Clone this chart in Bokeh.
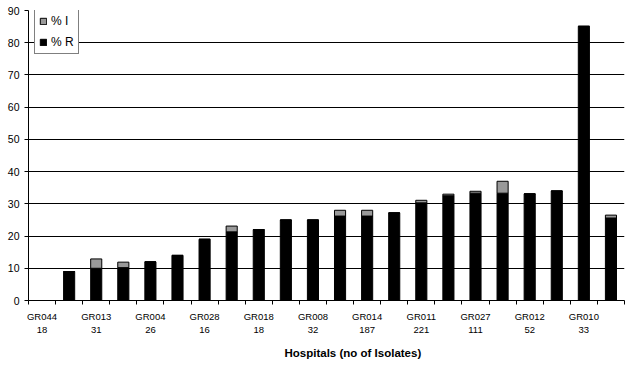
from bokeh.plotting import figure
from bokeh.models import FixedTicker, Range1d, Legend, LegendItem, ColumnDataSource, Title
from bokeh.embed import file_html
from bokeh.resources import INLINE

# Data
hospitals = ["GR044", "", "GR013", "", "GR004", "", "GR028", "", "GR018", "", "GR008",
             "", "GR014", "", "GR011", "", "GR027", "", "GR012", "", "GR010", ""]
isolates = ["18", "", "31", "", "26", "", "16", "", "18", "", "32",
            "", "187", "", "221", "", "111", "", "52", "", "33", ""]
pct_r = [0, 9, 10, 10.2, 12, 14, 19, 21.3, 22, 25, 25,
         26.2, 26.2, 27.2, 30.3, 32.5, 33.3, 33.3, 33.1, 34, 85.1, 25.6]
pct_i = [0, 0, 2.9, 1.7, 0, 0, 0, 1.8, 0, 0, 0,
         1.8, 1.8, 0, 0.8, 0.5, 0.6, 3.7, 0, 0, 0, 0.9]
y_ticks = [0, 10, 20, 30, 40, 50, 60, 70, 80, 90]

n = len(pct_r)
xs = [i + 0.5 for i in range(n)]
src = ColumnDataSource(dict(x=xs, r=pct_r, i=pct_i))

p = figure(width=626, height=366, output_backend="svg", toolbar_location=None,
           x_range=Range1d(0, n), y_range=Range1d(0, 90),
           min_border_left=28, min_border_right=2, min_border_top=10, min_border_bottom=64)
p.outline_line_color = None
p.background_fill_color = "white"
p.border_fill_color = "white"

rs = p.vbar_stack(["r", "i"], x="x", width=0.41, source=src,
                  fill_color=["black", "#999999"], line_color="black", line_width=1)

font = "Liberation Sans"

# x axis
lab_pos = [xs[k] for k in range(n) if hospitals[k]]
overrides = {xs[k]: hospitals[k] + "\n" + isolates[k] for k in range(n) if hospitals[k]}
xa = p.xaxis[0]
xa.ticker = FixedTicker(ticks=lab_pos, minor_ticks=list(range(n + 1)))
xa.major_label_overrides = overrides
xa.major_tick_in = 0
xa.major_tick_out = 0
xa.major_tick_line_color = None
xa.minor_tick_in = 0
xa.minor_tick_out = 4
xa.minor_tick_line_color = "black"
xa.axis_line_color = "black"
xa.major_label_text_font = font
xa.major_label_text_font_size = "9.5px"
xa.major_label_text_color = "black"
xa.major_label_standoff = 6

title = Title(text="Hospitals (no of Isolates)", align="left", offset=256,
              text_font=font, text_font_size="11.5px", text_font_style="bold",
              text_color="black", standoff=15)
p.add_layout(title, "below")

# y axis
ya = p.yaxis[0]
ya.ticker = FixedTicker(ticks=y_ticks)
ya.major_tick_in = 0
ya.major_tick_out = 4
ya.minor_tick_line_color = None
ya.axis_line_color = "black"
ya.major_tick_line_color = "black"
ya.major_label_text_font = font
ya.major_label_text_font_size = "10.5px"
ya.major_label_text_color = "black"
ya.major_label_standoff = 5

p.xgrid.grid_line_color = None
p.ygrid.ticker = FixedTicker(ticks=y_ticks[1:-1])
p.ygrid.grid_line_color = "black"
p.ygrid.grid_line_alpha = 1

legend = Legend(items=[LegendItem(label="% I", renderers=[rs[1]]),
                       LegendItem(label="% R", renderers=[rs[0]])],
                location=(6, 246))
legend.border_line_color = "black"
legend.border_line_width = 1
legend.background_fill_color = "white"
legend.background_fill_alpha = 1
legend.label_text_font = font
legend.label_text_font_size = "12px"
legend.label_text_color = "black"
legend.glyph_width = 8
legend.glyph_height = 8
legend.label_standoff = 4
legend.spacing = 7
legend.padding = 4
legend.margin = 0
legend.label_height = 14
p.add_layout(legend, "center")

open("out.html", "w").write(file_html(p, INLINE))
